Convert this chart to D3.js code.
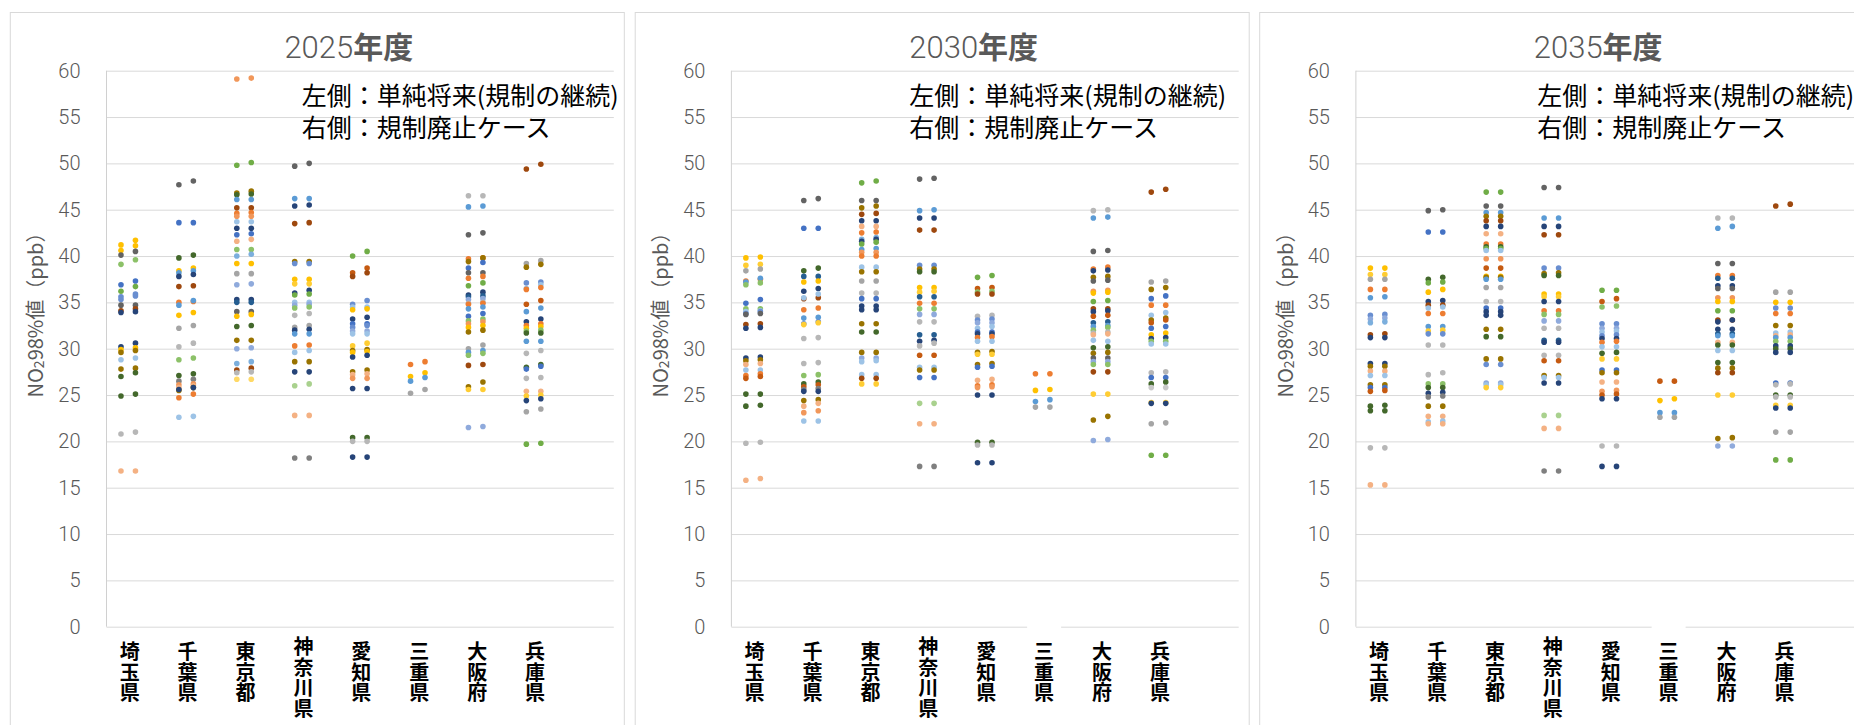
<!DOCTYPE html>
<html>
<head>
<meta charset="utf-8">
<script src="https://cdn.jsdelivr.net/npm/d3@7"></script>
<style>
  body { margin: 0; background: #fff; }
  svg text { font-family: "Noto Sans CJK JP", sans-serif; }
</style>
</head>
<body>
<svg id="chart" width="1854" height="725"></svg>
<script>
var years = ['2025', '2030', '2035'];
var prefectures = ['埼玉県', '千葉県', '東京都', '神奈川県', '愛知県', '三重県', '大阪府', '兵庫県'];
var yTicks = [0, 5, 10, 15, 20, 25, 30, 35, 40, 45, 50, 55, 60];
var legendLines = ['左側：単純将来(規制の継続)', '右側：規制廃止ケース'];

// station colours (Excel series palette)
var palette = {
  b: '#4472C4', o: '#ED7D31', g: '#A5A5A5', y: '#FFC000', lb: '#5B9BD5', gr: '#70AD47',
  db: '#264478', br: '#9E480E', dg: '#636363', dy: '#997300', dlb: '#255E91', dgr: '#43682B',
  b2: '#698ED0', o2: '#F1975A', g2: '#B7B7B7', y2: '#FFCD33', lb2: '#7CAFDD', gr2: '#8CC168',
  b3: '#8FAADC', o3: '#F4B183', g3: '#C9C9C9', y3: '#FFD966', lb3: '#9DC3E6', gr3: '#A9D18E',
  o4: '#C55A11', dg2: '#7F7F7F'
};

// per prefecture: [left (継続), right (廃止), station colour]
var d2025 = [
  [[41.2,41.7,'y'],[40.6,41.1,'y'],[40.1,40.5,'dg'],[39.1,39.6,'gr2'],[36.9,37.3,'b'],[36.2,36.7,'gr'],[35.6,35.9,'b2'],[35.3,35.7,'b2'],[34.7,34.7,'dg'],[34.1,34.3,'br'],[33.9,34.0,'db'],[30.2,30.6,'db'],[29.9,30.1,'y'],[29.6,29.8,'dy'],[28.8,29.0,'lb3'],[27.8,27.9,'dy'],[27.0,27.4,'dgr'],[24.9,25.1,'dgr'],[20.8,21.0,'g2'],[16.8,16.8,'o3']],
  [[47.7,48.1,'dg'],[43.6,43.6,'b'],[39.8,40.1,'dgr'],[38.4,38.7,'y'],[38.2,38.4,'lb'],[37.8,38.0,'db'],[36.7,36.8,'br'],[35.0,35.1,'o'],[34.7,35.2,'lb'],[33.6,33.9,'y'],[32.2,32.5,'g'],[30.2,30.6,'g2'],[28.8,29.0,'gr2'],[27.1,27.3,'dgr'],[26.5,26.7,'dg2'],[26.1,26.2,'o2'],[25.8,26.0,'o3'],[25.5,25.8,'dy'],[25.6,25.8,'db'],[24.7,25.1,'o'],[22.6,22.7,'lb3']],
  [[59.1,59.2,'o2'],[49.8,50.1,'gr'],[46.8,47.0,'dy'],[46.6,46.7,'dgr'],[46.1,46.1,'lb'],[45.2,45.2,'br'],[44.6,44.7,'o'],[44.3,44.3,'o2'],[43.7,43.7,'lb3'],[43.0,43.0,'db'],[42.3,42.4,'b'],[41.6,41.8,'o3'],[40.7,40.7,'gr2'],[40.0,40.2,'lb2'],[39.2,39.2,'y'],[38.1,38.1,'g'],[36.9,37.0,'b3'],[35.3,35.3,'db'],[35.0,35.0,'dlb'],[34.0,34.0,'dg'],[33.5,33.7,'y'],[32.4,32.5,'dgr'],[30.9,30.9,'dy'],[30.0,30.1,'b3'],[28.4,28.6,'lb2'],[27.7,27.9,'br'],[27.4,27.5,'g2'],[26.7,26.7,'y3']],
  [[49.7,50.0,'dg'],[46.2,46.2,'lb'],[45.4,45.5,'db'],[43.5,43.6,'br'],[39.4,39.4,'dy'],[39.2,39.2,'b2'],[37.5,37.5,'y'],[37.0,37.0,'y2'],[36.0,36.3,'db'],[35.8,35.9,'gr'],[35.0,35.0,'lb3'],[34.7,34.8,'b3'],[34.4,34.5,'gr2'],[33.6,33.8,'g2'],[32.3,32.5,'g'],[32.0,32.1,'db'],[31.6,31.6,'lb'],[30.3,30.4,'o'],[29.6,29.8,'lb3'],[28.6,28.6,'dy'],[27.5,27.5,'db'],[26.0,26.2,'gr3'],[22.8,22.8,'o3'],[18.2,18.2,'dg2']],
  [[40.0,40.5,'gr'],[38.2,38.7,'o4'],[37.8,38.2,'br'],[34.8,35.2,'b2'],[34.5,34.5,'lb3'],[34.2,34.3,'y'],[33.2,33.4,'db'],[32.7,32.7,'b'],[32.3,32.5,'b2'],[31.9,31.9,'b3'],[31.6,31.6,'lb3'],[30.3,30.6,'y2'],[29.8,29.9,'dy'],[29.6,29.7,'y'],[29.1,29.3,'db'],[27.5,27.7,'dy'],[27.2,27.3,'o3'],[26.8,26.8,'o2'],[25.7,25.7,'db'],[20.4,20.4,'dgr'],[20.0,20.0,'g2'],[18.3,18.3,'db']],
  [[28.3,28.6,'o'],[27.0,27.4,'y'],[26.5,26.9,'lb'],[25.2,25.6,'g']],
  [[46.5,46.5,'g2'],[45.3,45.4,'lb'],[42.3,42.5,'dg'],[39.7,39.8,'o'],[39.4,39.8,'dy'],[38.7,39.3,'b'],[38.2,38.2,'dg'],[37.6,37.8,'o'],[36.8,37.1,'gr'],[35.8,36.1,'db'],[35.6,35.7,'dlb'],[35.3,35.4,'b3'],[34.9,35.0,'g2'],[34.8,34.9,'o'],[34.3,34.5,'lb'],[33.5,33.8,'b'],[33.0,33.2,'gr2'],[32.7,32.9,'o2'],[32.3,32.5,'y'],[31.8,32.0,'dy'],[30.0,30.4,'g'],[29.6,29.8,'lb'],[29.3,29.5,'gr2'],[28.2,28.3,'br'],[25.9,26.4,'dy'],[25.6,25.6,'y2'],[21.5,21.6,'b3']],
  [[49.4,49.9,'br'],[39.2,39.5,'g'],[38.8,39.1,'dy'],[37.1,37.2,'b2'],[36.5,36.9,'lb3'],[36.4,36.6,'o'],[34.8,35.2,'o4'],[34.0,34.4,'lb'],[32.9,33.2,'db'],[32.5,32.7,'o'],[32.2,32.4,'y'],[31.9,32.0,'gr2'],[31.7,31.7,'dgr'],[30.8,30.8,'lb'],[29.5,29.8,'g2'],[28.0,28.3,'dgr'],[27.8,28.1,'b'],[26.8,26.9,'g2'],[25.4,25.4,'o3'],[24.9,25.0,'y2'],[24.4,24.6,'db'],[23.2,23.5,'g'],[19.7,19.8,'gr']]
];

var d2030 = [
  [[39.8,39.9,'y'],[39.0,39.1,'y2'],[38.4,38.6,'g'],[37.3,37.5,'o'],[37.2,37.6,'lb'],[36.9,37.1,'gr2'],[34.9,35.3,'b'],[34.3,34.3,'gr2'],[34.0,34.1,'lb3'],[33.8,34.0,'b2'],[33.7,33.8,'dg'],[32.6,32.7,'br'],[32.2,32.3,'db'],[29.0,29.1,'db'],[28.7,28.8,'dy'],[28.3,28.4,'o3'],[27.7,27.7,'lb3'],[27.1,27.3,'o'],[26.8,27.0,'o4'],[25.1,25.1,'dgr'],[23.8,23.9,'dgr'],[19.8,19.9,'g2'],[15.8,16.0,'o3']],
  [[46.0,46.2,'dg'],[43.0,43.0,'b'],[38.4,38.7,'dgr'],[37.8,37.8,'dlb'],[37.2,37.3,'y'],[36.2,36.5,'db'],[35.4,35.5,'br'],[35.5,35.9,'lb3'],[34.2,34.4,'o'],[33.3,33.4,'lb'],[32.7,32.9,'b2'],[32.6,32.8,'y2'],[31.1,31.2,'g2'],[28.4,28.5,'g2'],[27.1,27.2,'gr2'],[26.2,26.4,'dgr'],[25.9,26.1,'o4'],[25.6,25.7,'dg2'],[25.4,25.4,'db'],[24.4,24.5,'dy'],[23.8,24.1,'o3'],[23.1,23.3,'o2'],[22.2,22.2,'lb3']],
  [[47.9,48.1,'gr'],[46.0,46.0,'dg'],[45.2,45.4,'dy'],[44.5,44.6,'br'],[43.8,43.8,'db'],[43.2,43.2,'o3'],[42.5,42.6,'o'],[41.8,42.0,'lb2'],[41.6,41.8,'db'],[41.3,41.5,'gr'],[40.7,40.8,'lb'],[40.4,40.4,'o2'],[40.0,40.0,'o'],[38.8,38.8,'lb3'],[38.3,38.3,'dy'],[37.3,37.3,'g'],[36.0,36.0,'g2'],[35.4,35.4,'b'],[34.6,34.6,'db'],[34.2,34.2,'db'],[32.7,32.7,'dy'],[31.8,31.8,'dgr'],[29.6,29.6,'dy'],[29.0,29.0,'b3'],[28.6,28.7,'lb3'],[27.2,27.2,'lb3'],[26.8,26.8,'br'],[26.2,26.2,'y2']],
  [[48.3,48.4,'dg'],[44.9,45.0,'lb'],[44.1,44.1,'db'],[42.8,42.8,'br'],[39.0,39.0,'b2'],[38.6,38.6,'dy'],[38.3,38.3,'dgr'],[36.6,36.6,'y'],[36.1,36.2,'y2'],[35.6,35.6,'dlb'],[34.9,34.9,'o'],[34.3,34.3,'gr2'],[33.7,33.7,'b3'],[32.9,32.9,'g2'],[31.5,31.5,'dlb'],[30.8,30.9,'db'],[30.3,30.6,'g2'],[29.3,29.3,'o4'],[28.0,28.0,'lb3'],[27.7,27.7,'dy'],[26.9,26.9,'b'],[24.1,24.1,'gr3'],[21.9,21.9,'o3'],[17.3,17.3,'dg2']],
  [[37.7,37.9,'gr'],[36.5,36.6,'o4'],[36.1,36.2,'gr2'],[35.9,35.9,'br'],[33.5,33.6,'g2'],[33.1,33.2,'b2'],[32.8,32.8,'b3'],[32.2,32.4,'lb3'],[31.8,31.8,'b'],[31.6,31.6,'db'],[31.2,31.3,'o'],[30.8,30.8,'lb3'],[29.6,29.7,'dy'],[29.4,29.4,'y2'],[28.3,28.4,'dy'],[28.0,28.1,'b'],[26.6,26.7,'o3'],[26.0,26.1,'o'],[25.8,25.9,'o2'],[25.0,25.0,'db'],[19.9,19.9,'dgr'],[19.6,19.6,'g2'],[17.7,17.7,'db']],
  [[27.3,27.3,'o'],[25.5,25.6,'y'],[24.3,24.5,'lb'],[23.7,23.7,'g']],
  [[44.9,45.0,'g2'],[44.1,44.2,'lb'],[40.5,40.6,'dg'],[38.6,38.8,'o'],[38.4,38.5,'db'],[37.7,37.8,'dy'],[37.3,37.4,'dg'],[36.2,36.3,'o2'],[36.0,36.1,'y'],[35.1,35.2,'gr'],[34.3,34.3,'br'],[34.0,34.1,'db'],[33.5,33.6,'o4'],[32.8,32.9,'dlb'],[32.4,32.5,'lb'],[32.0,32.3,'gr2'],[31.7,31.8,'g2'],[31.5,31.6,'o3'],[30.9,30.8,'lb3'],[30.1,30.2,'dgr'],[29.5,29.6,'dy'],[29.0,29.0,'dg'],[28.6,28.6,'b3'],[28.3,28.3,'gr2'],[27.5,27.5,'br'],[25.1,25.1,'y2'],[22.3,22.7,'dy'],[20.1,20.2,'b3']],
  [[46.9,47.2,'br'],[37.2,37.3,'g'],[36.4,36.6,'dy'],[35.4,35.7,'b'],[34.7,34.7,'o'],[33.6,33.9,'lb3'],[33.1,33.3,'dy'],[32.8,33.1,'o4'],[32.2,32.4,'b'],[31.5,31.7,'y'],[31.1,31.2,'db'],[30.8,30.8,'gr2'],[30.5,30.5,'lb3'],[27.4,27.5,'g2'],[26.9,26.9,'b'],[26.2,26.4,'dgr'],[25.8,25.8,'g3'],[24.2,24.2,'y2'],[24.1,24.1,'db'],[21.9,22.0,'g'],[18.5,18.5,'gr']]
];

var d2035 = [
  [[38.7,38.7,'y'],[38.0,38.0,'y2'],[37.5,37.5,'g'],[36.4,36.4,'o'],[35.5,35.6,'lb'],[33.6,33.7,'b2'],[33.2,33.3,'b3'],[32.8,32.9,'lb2'],[31.5,31.6,'br'],[31.2,31.2,'db'],[28.4,28.4,'db'],[28.1,28.1,'dy'],[27.6,27.6,'o3'],[27.1,27.1,'lb3'],[26.1,26.1,'dy'],[25.8,25.8,'b'],[25.4,25.5,'o4'],[23.8,23.9,'dgr'],[23.3,23.3,'dgr'],[19.3,19.3,'g2'],[15.3,15.3,'o3']],
  [[44.9,45.0,'dg'],[42.6,42.6,'b'],[37.5,37.7,'dgr'],[37.1,37.2,'gr'],[36.1,36.4,'y'],[35.1,35.2,'db'],[34.7,34.7,'br'],[34.4,34.5,'lb3'],[33.8,33.8,'o'],[32.4,32.4,'lb'],[31.9,32.0,'y2'],[31.6,31.6,'b2'],[30.4,30.4,'g2'],[27.2,27.4,'g2'],[26.2,26.2,'gr2'],[25.8,25.8,'dgr'],[25.2,25.3,'db'],[24.8,24.9,'dg2'],[23.8,23.8,'dy'],[22.7,22.7,'o3'],[22.1,22.2,'lb3'],[21.9,21.9,'o3']],
  [[46.9,46.9,'gr'],[45.4,45.4,'dg'],[44.7,44.7,'lb'],[44.3,44.3,'dy'],[43.8,43.8,'br'],[43.2,43.2,'db'],[42.4,42.4,'o3'],[41.3,41.3,'o'],[41.0,41.0,'dgr'],[40.8,40.8,'gr'],[40.6,40.6,'lb3'],[39.7,39.7,'o2'],[38.7,38.7,'o4'],[37.8,37.8,'y'],[37.7,37.7,'dy'],[37.5,37.5,'lb'],[36.6,36.6,'g'],[35.1,35.1,'g2'],[34.4,34.4,'b'],[34.0,34.0,'db'],[33.6,33.6,'db'],[32.1,32.1,'dy'],[31.3,31.3,'dgr'],[28.9,28.9,'dy'],[28.3,28.3,'b2'],[26.3,26.3,'b3'],[26.1,26.1,'lb3'],[25.8,25.8,'y2']],
  [[47.4,47.4,'dg'],[44.1,44.1,'lb'],[43.2,43.2,'db'],[42.3,42.3,'br'],[38.7,38.7,'b2'],[38.1,38.2,'dy'],[37.9,37.9,'dgr'],[35.9,35.9,'y'],[35.6,35.6,'y2'],[35.1,35.1,'db'],[34.1,34.1,'o'],[33.7,33.7,'gr2'],[33.0,33.0,'b3'],[32.2,32.2,'g2'],[30.9,30.9,'dlb'],[30.7,30.7,'db'],[29.3,29.3,'g2'],[28.7,28.7,'o4'],[27.1,27.1,'dy'],[26.9,26.9,'lb3'],[26.3,26.3,'db'],[22.8,22.8,'gr3'],[21.4,21.4,'o3'],[16.8,16.8,'dg2']],
  [[36.3,36.3,'gr'],[35.1,35.4,'o4'],[34.5,34.6,'gr2'],[32.7,32.7,'b2'],[32.2,32.2,'b3'],[31.8,31.9,'lb3'],[31.4,31.5,'b2'],[31.1,31.1,'db'],[30.7,30.8,'o'],[30.2,30.2,'lb3'],[29.5,29.6,'dgr'],[28.9,28.9,'y2'],[27.7,27.7,'b'],[27.4,27.4,'dy'],[26.4,26.4,'o3'],[25.4,25.5,'o2'],[25.0,25.1,'o4'],[24.6,24.6,'db'],[19.5,19.5,'g2'],[17.3,17.3,'db']],
  [[26.5,26.5,'o4'],[24.4,24.6,'y'],[23.1,23.1,'lb'],[22.6,22.6,'g']],
  [[44.1,44.1,'g2'],[43.0,43.2,'lb'],[39.2,39.2,'dg'],[37.9,37.9,'o'],[37.6,37.6,'dlb'],[36.8,36.8,'db'],[36.5,36.5,'dg'],[35.5,35.5,'o2'],[35.1,35.1,'y'],[34.1,34.1,'gr'],[33.1,33.1,'br'],[32.9,33.1,'db'],[32.1,32.1,'db'],[31.6,31.6,'dlb'],[31.4,31.4,'lb'],[30.7,30.7,'o3'],[30.4,30.4,'dgr'],[29.8,29.8,'lb3'],[28.5,28.5,'dgr'],[27.9,27.9,'dy'],[27.4,27.4,'br'],[25.0,25.0,'y2'],[20.3,20.4,'dy'],[19.5,19.5,'b3']],
  [[45.4,45.6,'br'],[36.1,36.1,'g'],[35.0,35.0,'y'],[34.4,34.4,'b2'],[33.8,33.8,'o'],[32.5,32.5,'dy'],[31.7,31.8,'lb3'],[31.4,31.5,'o3'],[31.2,31.2,'lb'],[30.8,30.8,'gr2'],[30.3,30.3,'db'],[30.0,30.0,'dgr'],[29.6,29.6,'db'],[26.3,26.3,'b'],[26.1,26.2,'g2'],[25.0,25.0,'dgr'],[24.8,24.8,'g2'],[23.9,23.9,'y2'],[23.6,23.6,'db'],[21.0,21.0,'g'],[18.0,18.0,'gr']]
];

var panelData = [d2025, d2030, d2035];

// layout
var panelLeft = [9.8, 634.7, 1259.2];
var legendLeft = [292, 274.5, 278];
var labelBoxed = [false, true, true];   // 三重県 label box covers the axis line
var panelW = 614, panelTop = 12;
var plotL = 96.7, plotR = 604, plotTop = 70.7, plotBottom = 626.7;

var svg = d3.select('#chart');

years.forEach(function(year, p) {
  var x0 = panelLeft[p];
  var g = svg.append('g');

  g.append('rect')
    .attr('x', x0 + 0.5).attr('y', panelTop + 0.5)
    .attr('width', panelW).attr('height', 760)
    .attr('fill', '#fff').attr('stroke', '#D9D9D9');

  var x = d3.scaleLinear().domain([0, 8.76]).range([x0 + plotL, x0 + plotR]);
  var y = d3.scaleLinear().domain([0, 60]).range([plotBottom, plotTop]);

  var yAxis = g.append('g')
    .attr('transform', 'translate(' + (x0 + plotL) + ',0)')
    .call(d3.axisLeft(y).tickValues(yTicks).tickSize(-(plotR - plotL)).tickPadding(26));
  yAxis.select('.domain').remove();
  yAxis.selectAll('.tick line').attr('stroke', '#D9D9D9');
  yAxis.selectAll('.tick text')
    .attr('fill', '#595959')
    .style('font-family', 'Roboto, sans-serif')
    .style('font-weight', 300)
    .style('font-size', '20px');

  g.append('line')
    .attr('x1', x0 + plotL).attr('x2', x0 + plotL)
    .attr('y1', y(0)).attr('y2', y(60))
    .attr('stroke', '#D0D0D0');

  // title
  var title = g.append('text')
    .attr('x', x0 + 339).attr('y', 58)
    .attr('text-anchor', 'middle')
    .attr('fill', '#595959');
  title.append('tspan').text(year)
    .style('font-family', 'Roboto, sans-serif').style('font-weight', 300).style('font-size', '31px');
  title.append('tspan').text('年度')
    .style('font-weight', 'bold').style('font-size', '30px');

  // y axis title
  var yt = g.append('text')
    .attr('transform', 'translate(' + (x0 + 24.4) + ',310) rotate(-90)')
    .attr('text-anchor', 'middle')
    .attr('dominant-baseline', 'central')
    .attr('fill', '#595959')
    .style('font-size', '20px');
  yt.append('tspan').text('NO');
  yt.append('tspan').text('2').style('font-size', '14px').attr('dy', 4);
  yt.append('tspan').text('98%値（ppb）').attr('dy', -4);

  // legend note
  legendLines.forEach(function(line, k) {
    g.append('text')
      .attr('x', x0 + legendLeft[p]).attr('y', 105 + k * 32)
      .attr('fill', '#000')
      .style('font-size', '25px')
      .text(line);
  });

  // points: left = 継続, right = 廃止
  panelData[p].forEach(function(rows, i) {
    rows.forEach(function(d) {
      g.append('circle')
        .attr('cx', x(i + 0.25)).attr('cy', y(d[0]))
        .attr('r', 2.8).attr('fill', palette[d[2]]);
      g.append('circle')
        .attr('cx', x(i + 0.5)).attr('cy', y(d[1]))
        .attr('r', 2.8).attr('fill', palette[d[2]]);
    });
  });

  // category labels, written top to bottom
  prefectures.forEach(function(name, i) {
    var cx = x(i + 0.4);
    if (labelBoxed[p] && name === '三重県') {
      g.append('rect')
        .attr('x', cx - 17).attr('y', 624).attr('width', 34).attr('height', 5)
        .attr('fill', '#fff');
    }
    var t = g.append('text')
      .attr('x', cx).attr('y', name.length > 3 ? 654 : 659)
      .attr('text-anchor', 'middle')
      .attr('fill', '#000')
      .style('font-size', '20px')
      .style('font-weight', 'bold');
    name.split('').forEach(function(ch, k) {
      t.append('tspan').attr('x', cx).attr('dy', k === 0 ? 0 : 20.7).text(ch);
    });
  });
});
</script>
</body>
</html>
